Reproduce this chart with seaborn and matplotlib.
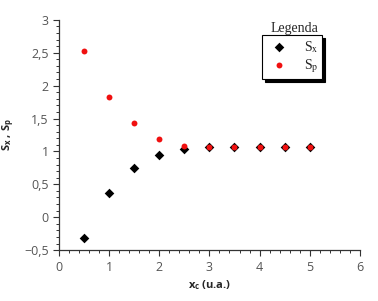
import pandas as pd
import numpy as np
import matplotlib
matplotlib.use("Agg")
import matplotlib.pyplot as plt
from matplotlib.ticker import MultipleLocator, FuncFormatter
from matplotlib.font_manager import FontProperties
import seaborn as sns

# ---- data ----
xc = [0.5, 1.0, 1.5, 2.0, 2.5, 3.0, 3.5, 4.0, 4.5, 5.0]
s_x = [-0.32, 0.37, 0.75, 0.95, 1.03, 1.06, 1.06, 1.06, 1.06, 1.06]
s_p = [2.52, 1.82, 1.43, 1.19, 1.09, 1.06, 1.06, 1.06, 1.06, 1.06]

sns.set_style("ticks")
plt.rcParams.update({
    'font.family': ['Open Sans', 'DejaVu Sans'],
    'mathtext.fontset': 'custom',
    'mathtext.rm': 'Open Sans',
    'mathtext.bf': 'Open Sans:bold',
    'mathtext.it': 'Open Sans:italic',
})

df_x = pd.DataFrame({'xc': xc, 'S': s_x})
df_p = pd.DataFrame({'xc': xc, 'S': s_p})

fig = plt.figure(figsize=(3.78, 3.01), dpi=100)
ax = fig.add_axes([0.156, 0.169, 0.796, 0.765])

sns.scatterplot(data=df_x, x='xc', y='S', ax=ax, marker='D', s=24, color='black',
                linewidth=0, label=r'S$_{\rm x}$', zorder=3)
sns.scatterplot(data=df_p, x='xc', y='S', ax=ax, marker='o', s=18, color='#f01010',
                linewidth=0, label=r'S$_{\rm p}$', zorder=4)

ax.set_xlim(0, 6)
ax.set_ylim(-0.5, 3)
ax.xaxis.set_major_locator(MultipleLocator(1))
ax.xaxis.set_minor_locator(MultipleLocator(0.2))
ax.yaxis.set_major_locator(MultipleLocator(0.5))
ax.yaxis.set_minor_locator(MultipleLocator(0.1))

fmt = FuncFormatter(lambda v, p: f"{v:g}".replace('.', ',').replace('-', '\u2212'))
ax.xaxis.set_major_formatter(fmt)
ax.yaxis.set_major_formatter(fmt)

ax.tick_params(which='major', direction='out', length=4, width=0.8, color='#333333',
               labelsize=9, labelcolor='#555555')
ax.tick_params(which='minor', direction='out', length=2.5, width=0.7, color='#333333')
sns.despine(ax=ax)
for sp in ['left', 'bottom']:
    ax.spines[sp].set_linewidth(0.9)
    ax.spines[sp].set_color('#333333')

ax.set_xlabel(r'$\mathbf{x_c}$ (u.a.)', fontsize=8, fontweight='bold', labelpad=3)
ax.set_ylabel(r'$\mathbf{S_x}$ , $\mathbf{S_p}$', fontsize=8, fontweight='bold', labelpad=6)

leg_font = FontProperties(family='Liberation Serif', size=10, math_fontfamily='stix')
leg = ax.legend(loc='upper left', bbox_to_anchor=(0.693, 0.884), bbox_transform=fig.transFigure,
                borderaxespad=0, prop=leg_font, fancybox=False, frameon=True,
                shadow={'color': 'black', 'alpha': 1},
                handletextpad=0.9, labelspacing=0.15, borderpad=0.3, handlelength=1.8)
leg.get_frame().set_edgecolor('black')
leg.get_frame().set_linewidth(0.8)
leg.get_frame().set_alpha(1)
fig.text(0.778, 0.905, 'Legenda', family='Liberation Serif', size=10, ha='center', va='center')

fig.savefig('out.png', dpi=100)
